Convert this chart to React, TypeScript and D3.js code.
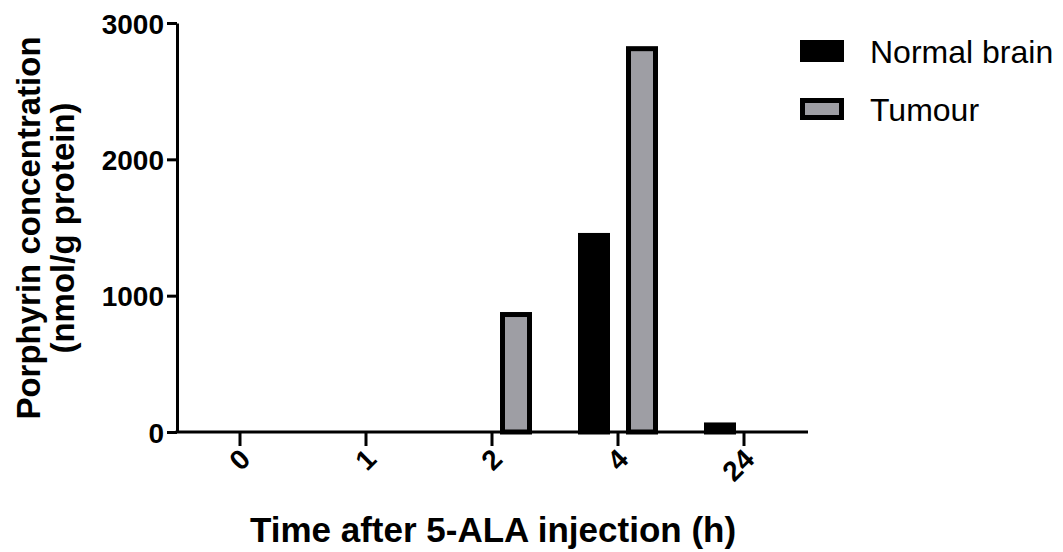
import React, { useEffect, useRef } from "react";
import * as d3 from "d3";

const categories = ["0", "1", "2", "4", "24"];
const normalBrain = [0, 0, 0, 1460, 70];
const tumour = [0, 0, 880, 2830, 0];
const yTicks = [0, 1000, 2000, 3000];
const seriesNames = ["Normal brain", "Tumour"];

const W = 1063;
const H = 552;

export default function App() {
  const ref = useRef<SVGSVGElement | null>(null);

  useEffect(() => {
    const svg = d3.select(ref.current);
    svg.selectAll("*").remove();

    const x = d3.scaleBand<string>().domain(categories).range([177, 807]).padding(0);
    const y = d3.scaleLinear().domain([0, 3000]).range([432, 23]);
    const sub = d3.scaleBand<string>().domain(seriesNames).range([-40, 40]).paddingInner(1 / 3).paddingOuter(0);

    const font = "'Liberation Sans', Arial, sans-serif";
    const fills = ["#000000", "#9e9ea4"];
    const data = [normalBrain, tumour];

    // bars
    seriesNames.forEach((s, si) => {
      const vals = data[si];
      svg
        .append("g")
        .selectAll("rect")
        .data(categories.map((c, i) => ({ c, v: vals[i] })).filter((d) => d.v > 0))
        .enter()
        .append("rect")
        .attr("x", (d) => (x(d.c) as number) + x.bandwidth() / 2 + (sub(s) as number) + 2.5)
        .attr("width", sub.bandwidth() - 5)
        .attr("y", (d) => y(d.v) + 2.5)
        .attr("height", (d) => y(0) - y(d.v) - 2.5)
        .attr("fill", fills[si])
        .attr("stroke", "#000")
        .attr("stroke-width", 5);
    });

    // y axis
    const yAxis = d3.axisLeft(y).tickValues(yTicks).tickSize(10).tickSizeOuter(0).tickFormat(d3.format("d"));
    const gy = svg.append("g").attr("transform", "translate(177,0)").call(yAxis);
    gy.select(".domain").attr("stroke-width", 3).attr("stroke", "#000");
    gy.selectAll(".tick line").attr("stroke-width", 3).attr("stroke", "#000");
    gy.selectAll(".tick text")
      .attr("font-family", font)
      .attr("font-weight", "bold")
      .attr("font-size", 28)
      .attr("fill", "#000")
      .attr("x", -13)
      .attr("dy", "0.36em");

    // x axis
    const xAxis = d3.axisBottom(x).tickSize(14).tickSizeOuter(0);
    const gx = svg.append("g").attr("transform", "translate(0,432)").call(xAxis);
    gx.select(".domain").attr("stroke-width", 3).attr("stroke", "#000").attr("d", "M175.5,0H808");
    gx.selectAll(".tick line").attr("stroke-width", 3).attr("stroke", "#000");
    gx.selectAll(".tick text")
      .attr("font-family", font)
      .attr("font-weight", "bold")
      .attr("font-size", 28)
      .attr("fill", "#000")
      .attr("text-anchor", "end")
      .attr("y", 0)
      .attr("dy", 0)
      .attr("transform", "translate(12,29) rotate(-45)");

    // axis titles
    svg
      .append("text")
      .attr("x", 493)
      .attr("y", 542)
      .attr("text-anchor", "middle")
      .attr("font-family", font)
      .attr("font-weight", "bold")
      .attr("font-size", 35)
      .text("Time after 5-ALA injection (h)");

    const yt = svg.append("g").attr("transform", "translate(0,228) rotate(-90)");
    yt.append("text")
      .attr("x", 0)
      .attr("y", 40)
      .attr("text-anchor", "middle")
      .attr("font-family", font)
      .attr("font-weight", "bold")
      .attr("font-size", 33)
      .text("Porphyrin concentration");
    yt.append("text")
      .attr("x", 0)
      .attr("y", 74)
      .attr("text-anchor", "middle")
      .attr("font-family", font)
      .attr("font-weight", "bold")
      .attr("font-size", 33)
      .text("(nmol/g protein)");

    // legend
    const lg = svg.append("g");
    seriesNames.forEach((s, i) => {
      const ly = 40 + i * 58;
      lg.append("rect")
        .attr("x", 802.5)
        .attr("y", ly + 2.5)
        .attr("width", 39)
        .attr("height", 17)
        .attr("fill", fills[i])
        .attr("stroke", "#000")
        .attr("stroke-width", 5);
      lg.append("text")
        .attr("x", 870)
        .attr("y", ly + 23)
        .attr("font-family", font)
        .attr("font-size", 32)
        .attr("fill", "#000")
        .text(s);
    });
  }, []);

  return (
    <div style={{ position: "absolute", left: 0, top: 0 }}>
      <svg ref={ref} width={W} height={H} style={{ display: "block", background: "#fff" }} />
    </div>
  );
}
